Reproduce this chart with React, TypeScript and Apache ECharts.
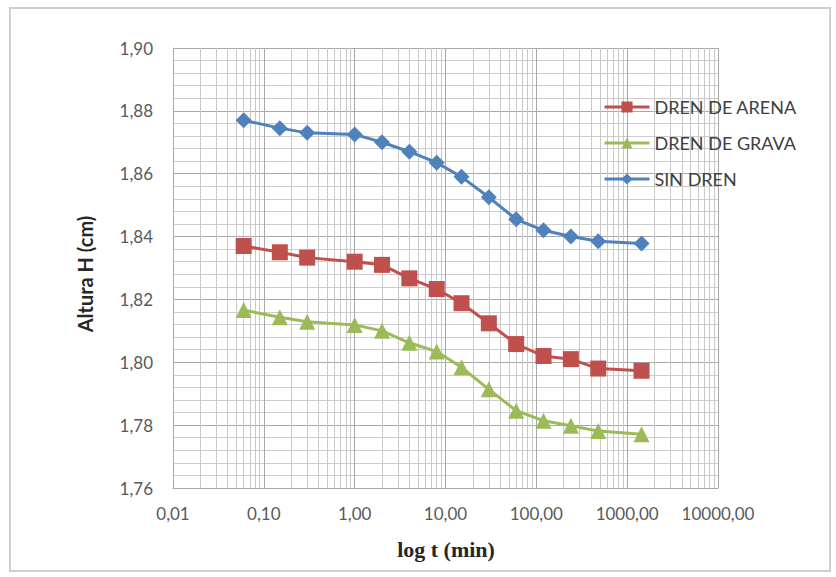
import React, { useEffect, useRef } from "react";
import * as echarts from "echarts";

// Time (min) of each reading
const times = [0.06, 0.15, 0.3, 1, 2, 4, 8, 15, 30, 60, 120, 240, 480, 1440];
// Heights H (cm)
const drenArena = [1.837, 1.835, 1.8333, 1.832, 1.831, 1.8267, 1.8233, 1.8188, 1.8124, 1.8058, 1.802, 1.801, 1.798, 1.7973];
const drenGrava = [1.8166, 1.8143, 1.8129, 1.8119, 1.81, 1.8062, 1.8034, 1.7984, 1.7914, 1.7846, 1.7814, 1.7798, 1.7781, 1.7771];
const sinDren = [1.877, 1.8745, 1.873, 1.8725, 1.87, 1.867, 1.8635, 1.859, 1.8525, 1.8455, 1.842, 1.84, 1.8385, 1.8378];

const seriesNames = ["DREN DE ARENA", "DREN DE GRAVA", "SIN DREN"];
const xDecades = [0.01, 0.1, 1, 10, 100, 1000, 10000];
const yMin = 1.76;
const yMax = 1.9;
const yStep = 0.02;

const fmt = (v: number) => v.toFixed(2).replace(".", ",");

export default function App() {
  const ref = useRef<HTMLDivElement>(null);
  useEffect(() => {
    const chart = echarts.init(ref.current!, null, { renderer: "svg" });
    const minorX: number[] = [];
    for (let i = 0; i < xDecades.length - 1; i++) {
      for (let k = 2; k <= 9; k++) minorX.push(+(xDecades[i] * k).toPrecision(3));
    }
    const pair = (arr: number[]) => arr.map((h, i) => [times[i], h]);
    const tickFont = { fontFamily: "Lato", fontSize: 17, color: "#595959" };
    const mkSeries = (name: string, data: number[], color: string, symbol: string, size: number) => ({
      name,
      type: "line",
      data: pair(data),
      z: 3,
      symbol,
      symbolSize: size,
      lineStyle: { color, width: 3, type: "solid" },
      itemStyle: { color },
      emphasis: { disabled: true },
    });
    chart.setOption({
      animation: false,
      backgroundColor: "#ffffff",
      grid: { left: 173, top: 48, width: 545, height: 440 },
      legend: {
        data: seriesNames,
        orient: "vertical",
        left: 598,
        top: 93,
        z: 20,
        itemWidth: 45,
        itemHeight: 14,
        itemGap: 18,
        lineStyle: { type: "solid", width: 3 },
        textStyle: { fontFamily: "Lato", fontSize: 18, color: "#404040", lineHeight: 18 },
      },
      xAxis: {
        type: "log",
        logBase: 10,
        min: 0.01,
        max: 10000,
        splitNumber: 6,
        axisLine: { show: true, lineStyle: { color: "#a8a8a8" } },
        axisTick: { show: false },
        axisLabel: { ...tickFont, margin: 17, formatter: (v: number) => fmt(v) },
        splitLine: { show: true, lineStyle: { color: "#a8a8a8", width: 1 } },
      },
      yAxis: {
        type: "value",
        min: yMin,
        max: yMax,
        interval: yStep,
        axisLine: { show: true, lineStyle: { color: "#a8a8a8" } },
        axisTick: { show: false },
        axisLabel: { ...tickFont, margin: 20, formatter: (v: number) => fmt(v) },
        splitLine: { show: true, lineStyle: { color: "#a8a8a8", width: 1 } },
        minorTick: { show: false, splitNumber: 5 },
        minorSplitLine: { show: true, lineStyle: { color: "#cccccc", width: 1 } },
      },
      graphic: [
        {
          type: "rect",
          shape: { x: 10, y: 8, width: 820, height: 563 },
          style: { fill: "none", stroke: "#cfcfcf", lineWidth: 2 },
          z: -10,
          silent: true,
        },
        {
          type: "text",
          x: 85,
          y: 274,
          rotation: Math.PI / 2,
          style: {
            text: "Altura H (cm)",
            font: "bold 20px Lato",
            fill: "#262626",
            align: "center",
            verticalAlign: "middle",
          },
        },
        {
          type: "text",
          x: 446,
          y: 549,
          style: {
            text: "log t (min)",
            font: "bold 22px 'Liberation Serif'",
            fill: "#262626",
            align: "center",
            verticalAlign: "middle",
          },
        },
      ],
      series: [
        {
          name: "_minorgrid",
          type: "line",
          data: [],
          z: 0,
          silent: true,
          markLine: {
            z: 0,
            silent: true,
            symbol: ["none", "none"],
            label: { show: false },
            lineStyle: { color: "#c8c8c8", width: 1, type: "solid" },
            emphasis: { disabled: true },
            data: minorX.map((v) => ({ xAxis: v })),
          },
        },
        mkSeries(seriesNames[0], drenArena, "#C0504D", "rect", 16),
        mkSeries(seriesNames[1], drenGrava, "#9BBB59", "triangle", 16),
        mkSeries(seriesNames[2], sinDren, "#4F81BD", "diamond", 16),
      ],
    });
    return () => chart.dispose();
  }, []);
  return (
    <div
      ref={ref}
      style={{ position: "fixed", left: 0, top: 0, width: 836, height: 577 }}
    />
  );
}
